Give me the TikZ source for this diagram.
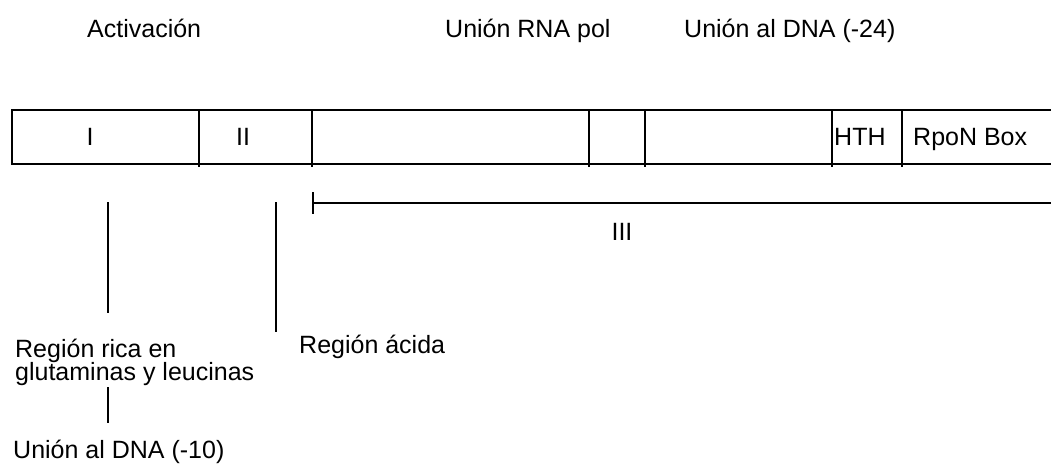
\documentclass[tikz,border=0pt]{standalone}
\usepackage{fontspec}
\setmainfont{Liberation Sans}
\begin{document}
\begin{tikzpicture}[x=1pt,y=-1pt,
  ln/.style={line width=2.8pt},
  txt/.style={inner sep=0pt,font=\fontsize{25}{22}\selectfont},
  lbl/.style={txt,anchor=base west},
  lblc/.style={txt,anchor=base}]
\useasboundingbox (0,0) rectangle (1051,466);

% domain bar, open at the right end
\draw[ln] (1051,110) -- (12,110) -- (12,164) -- (1051,164);
\foreach \xx in {199,312,589,645,832,902}
  \draw[ln] (\xx,110) -- (\xx,167);

% labels inside the bar
\node[lblc] (dI)  at (90,145)  {I};
\node[lblc] (dII) at (243,145) {II};
\node[lbl]  (hth) at (834,145) {HTH};
\node[lbl]  (rpon) at (913,145) {RpoN Box};

% functional labels above
\node[lbl] (act) at (87,37)  {Activación};
\node[lbl] (rna) at (445,37) {Unión RNA pol};
\node[lbl] (d24) at (684,37) {Unión al DNA (-24)};

% domain III bracket
\coordinate (b3) at (313,203);
\coordinate (b3e) at (1051,203);
\draw[ln] (313,192) -- (313,214);
\draw[ln] (b3) -- (b3e);
\node[lblc] (dIII) at (622,240) {III};

% region labels below
\node[lbl] (rica1) at (15,357) {Región rica en};
\node[lbl] (rica2) at (15,380) {glutaminas y leucinas};
\node[lbl] (acida) at (299,353) {Región ácida};
\node[lbl] (d10)   at (13,458) {Unión al DNA (-10)};

\coordinate (p1) at (108,202);
\coordinate (p2) at (276,202);
\coordinate (p3) at (108,387);
\draw[ln] (p1) -- (108,313);
\draw[ln] (p2) -- (276,332);
\draw[ln] (p3) -- (108,423);
\end{tikzpicture}
\end{document}
